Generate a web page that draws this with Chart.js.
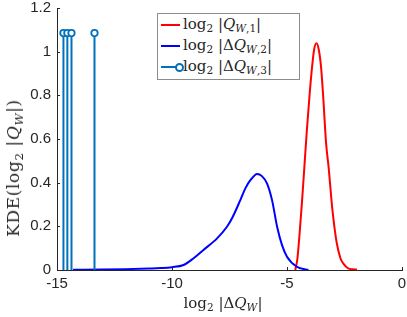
<!DOCTYPE html>
<html><head><meta charset="utf-8">
<script src="https://cdn.jsdelivr.net/npm/chart.js@4"></script>
<style>
html,body{margin:0;padding:0;background:#fff;}
#wrap{position:relative;width:407px;height:317px;overflow:hidden;}
.mt{font-family:"DejaVu Serif","Liberation Serif",serif;color:#262626;white-space:nowrap;position:absolute;}
.mt i{font-style:italic;}
.mt sub{font-size:70%;vertical-align:-0.3em;line-height:0;}
#legend{position:absolute;left:157px;top:13px;width:143px;height:67px;border:1px solid #8c8c8c;background:#fff;box-sizing:border-box;}
.lrow{position:absolute;left:0;height:20px;width:140px;}
.lline{position:absolute;left:3px;width:19px;height:2px;top:9px;}
.ltxt{position:absolute;left:25px;top:0px;font-size:15px;}
.lmark{position:absolute;left:17px;top:6px;width:5px;height:5px;border:2px solid #0072BD;border-radius:50%;background:#fff;}
</style></head>
<body>
<div id="wrap">
<canvas id="c" width="407" height="317"></canvas>
<div id="legend">
  <div class="lrow" style="top:1px"><div class="lline" style="background:#ff0000"></div><div class="mt ltxt">log<sub>2</sub> |<i>Q</i><sub><i>W</i>,1</sub>|</div></div>
  <div class="lrow" style="top:22px"><div class="lline" style="background:#0000ff"></div><div class="mt ltxt">log<sub>2</sub> |Δ<i>Q</i><sub><i>W</i>,2</sub>|</div></div>
  <div class="lrow" style="top:43px"><div class="lline" style="background:#0072BD"></div><div class="lmark"></div><div class="mt ltxt">log<sub>2</sub> |Δ<i>Q</i><sub><i>W</i>,3</sub>|</div></div>
</div>
<div class="mt" id="xt" style="font-size:15px;left:223px;top:294px;transform:translateX(-50%);">log<sub>2</sub> |Δ<i>Q</i><sub><i>W</i></sub>|</div>
<div class="mt" id="yt" style="font-size:17px;letter-spacing:0.6px;left:13px;top:168px;transform:translate(-50%,-50%) rotate(-90deg);">KDE(log<sub>2</sub> |<i>Q</i><sub><i>W</i></sub>|)</div>
</div>
<script>
// ---- data ----
const redX  = [-4.64, -4.55, -4.45, -4.35, -4.24, -4.13, -4.02, -3.91, -3.82, -3.72, -3.62, -3.52, -3.43, -3.30, -3.19, -3.04, -2.93, -2.83, -2.68, -2.54, -2.35, -2.15, -1.96];
const redY  = [0.0, 0.05, 0.17, 0.31, 0.48, 0.65, 0.80, 0.93, 1.01, 1.038, 1.01, 0.93, 0.80, 0.58, 0.47, 0.29, 0.19, 0.12, 0.055, 0.028, 0.008, 0.003, 0.002];
const blueX = [-14.3, -13.0, -12.0, -11.0, -10.5, -10.0, -9.5, -9.06, -8.63, -8.04, -7.61, -7.39, -7.03, -6.81, -6.60, -6.30, -6.09, -5.87, -5.65, -5.43, -5.22, -5.00, -4.57, -4.07];
const blueY = [0.001, 0.002, 0.004, 0.007, 0.009, 0.013, 0.023, 0.054, 0.092, 0.145, 0.198, 0.237, 0.32, 0.374, 0.41, 0.44, 0.43, 0.397, 0.32, 0.198, 0.115, 0.061, 0.015, 0.0];
const stemX = [-14.72, -14.55, -14.37, -13.37];
const stemY = [1.085, 1.085, 1.085, 1.085];
const xTicks = [-15, -10, -5, 0];
const yTicks = [0, 0.2, 0.4, 0.6, 0.8, 1, 1.2];

// ---- build datasets ----
const redData = redX.map((x, i) => ({x, y: redY[i]}));
const blueData = blueX.map((x, i) => ({x, y: blueY[i]}));
const stemData = [];
stemX.forEach((x, i) => { stemData.push({x, y: 0}); stemData.push({x, y: stemY[i]}); stemData.push({x, y: null}); });

const inwardTicks = {
  id: 'inwardTicks',
  afterDraw(chart) {
    const ctx = chart.ctx, xs = chart.scales.x, ys = chart.scales.y, a = chart.chartArea;
    ctx.save();
    ctx.strokeStyle = '#262626'; ctx.lineWidth = 1;
    ctx.beginPath();
    xTicks.forEach(v => { const p = Math.round(xs.getPixelForValue(v)) + 0.5; ctx.moveTo(p, a.bottom); ctx.lineTo(p, a.bottom - 3); });
    yTicks.forEach(v => { const p = Math.round(ys.getPixelForValue(v)) + 0.5; ctx.moveTo(a.left, p); ctx.lineTo(a.left + 3, p); });
    ctx.stroke();
    ctx.restore();
  }
};

new Chart(document.getElementById('c'), {
  type: 'line',
  data: {
    datasets: [
      {data: stemData, borderColor: '#0072BD', borderWidth: 2, spanGaps: false,
       pointRadius: c => (c.raw && c.raw.y > 0 ? 3.2 : 0), pointBorderWidth: 1.8,
       pointBackgroundColor: '#fff', pointBorderColor: '#0072BD', pointStyle: 'circle'},
      {data: blueData, borderColor: '#0000ff', borderWidth: 2, pointRadius: 0, cubicInterpolationMode: 'monotone'},
      {data: redData, borderColor: '#ff0000', borderWidth: 2, pointRadius: 0, cubicInterpolationMode: 'monotone'}
    ]
  },
  options: {
    responsive: false, animation: false, events: [],
    layout: {padding: {left: 0, right: 5, top: 8, bottom: 0}},
    plugins: {legend: {display: false}, tooltip: {enabled: false}},
    scales: {
      x: {type: 'linear', min: -15, max: 0,
          afterBuildTicks: s => { s.ticks = xTicks.map(v => ({value: v})); },
          afterFit: s => { s.height = 47; s.paddingLeft = 0; s.paddingRight = 0; },
          grid: {display: true, drawOnChartArea: false, drawTicks: false, color: '#262626'},
          border: {display: true, color: '#262626', width: 1},
          ticks: {color: '#262626', font: {family: 'Liberation Sans, Arial, sans-serif', size: 15}, padding: 5, maxRotation: 0,
                  callback: v => String(v)}},
      y: {type: 'linear', min: 0, max: 1.2,
          afterBuildTicks: s => { s.ticks = yTicks.map(v => ({value: v})); },
          afterFit: s => { s.width = 57; s.paddingTop = 0; s.paddingBottom = 0; },
          grid: {display: true, drawOnChartArea: false, drawTicks: false, color: '#262626'},
          border: {display: true, color: '#262626', width: 1},
          ticks: {color: '#262626', font: {family: 'Liberation Sans, Arial, sans-serif', size: 15}, padding: 6,
                  callback: v => String(Math.round(v * 10) / 10)}}
    }
  },
  plugins: [inwardTicks]
});
</script>
</body></html>
